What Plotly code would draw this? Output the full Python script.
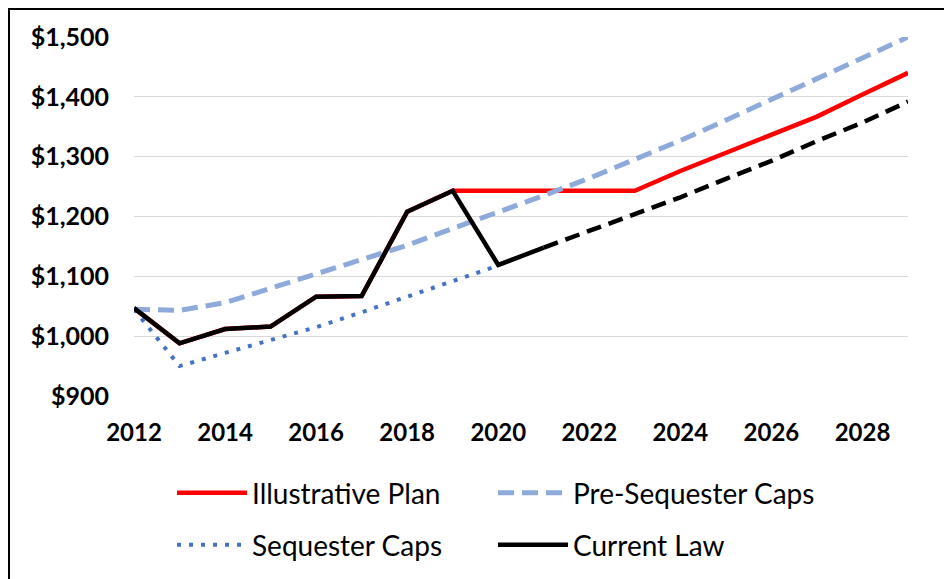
import plotly.graph_objects as go

years = list(range(2012, 2030))
illustrative_plan = [1047, 988, 1012, 1016, 1066, 1067, 1208, 1243, 1243, 1243, 1243, 1243,
                     1276, 1306, 1336, 1367, 1404, 1440]
pre_sequester = [1045, 1043, 1056, 1080, 1103, 1126, 1152, 1180, 1207, 1235, 1264, 1295,
                 1327, 1361, 1395, 1430, 1465, 1500]
seq_years = list(range(2012, 2021))
sequester = [1045, 950, 972, 993, 1015, 1040, 1066, 1092, 1118]
current_law = [1047, 988, 1012, 1016, 1066, 1067, 1208, 1243, 1119, 1148, 1176, 1205,
               1232, 1263, 1293, 1326, 1357, 1392]
projection_start = 2021
x_ticks = list(range(2012, 2029, 2))
x_tick_labels = [str(v) for v in x_ticks]
y_ticks = [900, 1000, 1100, 1200, 1300, 1400, 1500]
y_tick_labels = ["$900", "$1,000", "$1,100", "$1,200", "$1,300", "$1,400", "$1,500"]

W, H = 952, 579
OFF = 8  # page body margin: screen position = figure position + 8
# target plot area in screen pixels
SL, ST, SR, SB = 134, 37, 908, 396
L, T = SL - OFF, ST - OFF
R, B = W - (SR - OFF), H - (SB - OFF)
PW, PH = W - L - R, H - T - B

def px(sx):
    return (sx - OFF - L) / PW

def py(sy):
    return (H - B - (sy - OFF)) / PH

FONT = "Lato, 'Open Sans', sans-serif"

fig = go.Figure()
fig.add_trace(go.Scatter(x=years, y=illustrative_plan, mode="lines", name="Illustrative Plan",
                         line=dict(color="#ff0000", width=4.5), cliponaxis=False, legend="legend"))
fig.add_trace(go.Scatter(x=years, y=pre_sequester, mode="lines", name="Pre-Sequester Caps",
                         line=dict(color="#8eaadb", width=5, dash="16px,8px"), cliponaxis=False,
                         legend="legend"))
fig.add_trace(go.Scatter(x=seq_years, y=sequester, mode="lines", name="Sequester Caps",
                         line=dict(color="#4472c4", width=4, dash="4px,8px"), cliponaxis=False,
                         legend="legend2"))
k = years.index(projection_start)
fig.add_trace(go.Scatter(x=years[:k + 1], y=current_law[:k + 1], mode="lines", name="Current Law",
                         line=dict(color="#000000", width=4.5), cliponaxis=False, legend="legend2"))
fig.add_trace(go.Scatter(x=years[k:], y=current_law[k:], mode="lines", name="Current Law",
                         line=dict(color="#000000", width=4.5, dash="15px,8px"), cliponaxis=False,
                         showlegend=False, legend="legend2"))

legend_common = dict(orientation="h", xanchor="left", yanchor="middle",
                     entrywidth=236, entrywidthmode="pixels", itemwidth=70,
                     font=dict(family=FONT, size=28, color="#000000"),
                     bgcolor="rgba(0,0,0,0)", traceorder="normal")

fig.update_layout(
    width=W, height=H,
    margin=dict(l=L, r=R, t=T, b=B, autoexpand=False),
    paper_bgcolor="white", plot_bgcolor="white",
    font=dict(family=FONT, color="#000000"),
    showlegend=True,
    legend=dict(x=px(172), y=py(493), **legend_common),
    legend2=dict(x=px(172), y=py(545), **legend_common),
    xaxis=dict(range=[2012, 2029], tickvals=x_ticks, ticktext=x_tick_labels,
               showgrid=False, zeroline=False, showline=False, ticks="",
               tickfont=dict(family=FONT, size=24, color="#000000", weight="bold"),
               ticklabelstandoff=20),
    yaxis=dict(range=[900, 1500], tickvals=y_ticks, ticktext=y_tick_labels,
               showgrid=True, gridcolor="#d9d9d9", gridwidth=1, zeroline=False, showline=False,
               ticks="", tickfont=dict(family=FONT, size=25, color="#000000", weight="bold"),
               ticklabelstandoff=24),
    shapes=[
        dict(type="line", xref="paper", yref="paper", x0=px(8), x1=px(960), y0=py(9), y1=py(9),
             line=dict(color="#000000", width=2)),
        dict(type="line", xref="paper", yref="paper", x0=px(9), x1=px(9), y0=py(8), y1=py(590),
             line=dict(color="#000000", width=2)),
    ],
)

fig.write_html("out.html")
